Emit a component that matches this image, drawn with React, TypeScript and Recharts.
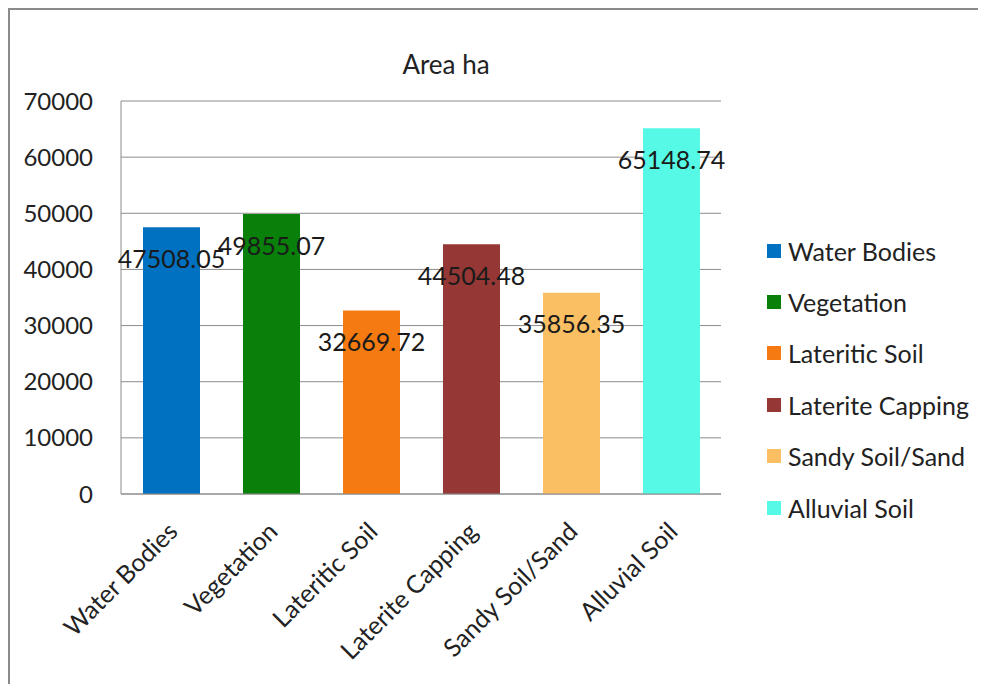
import { BarChart, Bar, XAxis, YAxis, CartesianGrid, Legend, LabelList, Cell } from 'recharts';

const categories = ['Water Bodies', 'Vegetation', 'Lateritic Soil', 'Laterite Capping', 'Sandy Soil/Sand', 'Alluvial Soil'];
const areaHa = [47508.05, 49855.07, 32669.72, 44504.48, 35856.35, 65148.74];
const colors = ['#0070C0', '#08800A', '#F57A12', '#953735', '#FABF62', '#56F9E6'];
const yTicks = [0, 10000, 20000, 30000, 40000, 50000, 60000, 70000];

const data = categories.map((name, i) => ({ name, area: areaHa[i] }));

const FONT = 'Lato, "Open Sans", sans-serif';

function AngledTick(props: any) {
  const { x, y, payload } = props;
  const ax = x + 2;
  const ay = y + 25;
  return (
    <text
      x={ax}
      y={ay}
      dy="0.35em"
      textAnchor="end"
      transform={`rotate(-45 ${ax} ${ay})`}
      fontSize={25}
      fontFamily={FONT}
      fill="#222"
    >
      {payload.value}
    </text>
  );
}

function LegendBox() {
  return (
    <div style={{ fontFamily: FONT }}>
      {categories.map((c, i) => (
        <div key={c} style={{ height: 51.4, display: 'flex', alignItems: 'center' }}>
          <span style={{ width: 14, height: 14, background: colors[i], display: 'inline-block', marginRight: 7 }} />
          <span style={{ fontSize: 25, color: '#222' }}>{c}</span>
        </div>
      ))}
    </div>
  );
}

export default function App() {
  return (
    <div
      style={{
        width: 978,
        height: 676,
        borderTop: '2px solid #8a8a8a',
        borderLeft: '2px solid #8a8a8a',
        boxSizing: 'border-box',
        position: 'relative',
        overflow: 'hidden',
        background: '#fff',
      }}
    >
      <div
        style={{
          position: 'absolute',
          left: 0,
          width: 872,
          top: 38,
          textAlign: 'center',
          fontFamily: FONT,
          fontSize: 26,
          color: '#222',
        }}
      >
        Area ha
      </div>
      <BarChart width={976} height={674} data={data} margin={{ top: 91, right: 46, bottom: 0, left: 11 }}>
        <CartesianGrid vertical={false} stroke="#8c8c8c" />
        <XAxis
          dataKey="name"
          height={190}
          interval={0}
          tickLine={false}
          stroke="#8c8c8c"
          tick={<AngledTick />}
        />
        <YAxis
          width={100}
          domain={[0, 70000]}
          ticks={yTicks}
          tickLine={false}
          tickSize={0}
          tickMargin={28}
          stroke="#8c8c8c"
          tick={{ fontSize: 24, fill: '#222', fontFamily: FONT }}
        />
        <Legend
          layout="vertical"
          align="right"
          verticalAlign="top"
          content={<LegendBox />}
          wrapperStyle={{ left: 757, top: 215, width: 219 }}
        />
        <Bar dataKey="area" barSize={57} isAnimationActive={false}>
          {data.map((d, i) => (
            <Cell key={d.name} fill={colors[i]} />
          ))}
          <LabelList
            dataKey="area"
            position="insideTop"
            offset={23}
            style={{ fontSize: 25, fill: '#1a1a1a', fontFamily: FONT }}
          />
        </Bar>
      </BarChart>
    </div>
  );
}
